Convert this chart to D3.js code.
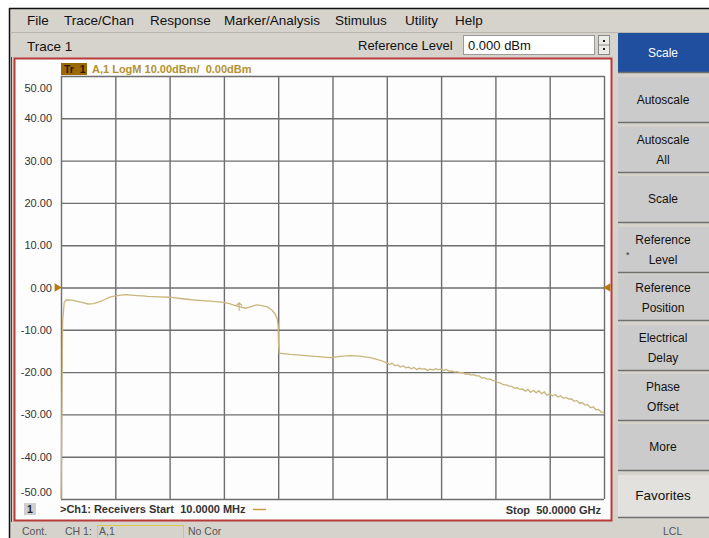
<!doctype html>
<html>
<head>
<meta charset="utf-8">
<title>PNA Trace 1</title>
<script src="https://cdn.jsdelivr.net/npm/d3@7"></script>
<style>
  body { margin: 0; background: #fff; }
  svg { display: block; font-family: "Liberation Sans", Arial, sans-serif; }
  svg text { white-space: pre; }
</style>
</head>
<body>
<svg id="chart" width="709" height="538"></svg>
<script>
var menuItems = ["File", "Trace/Chan", "Response", "Marker/Analysis", "Stimulus", "Utility", "Help"];
var menuX = [27, 64, 150, 224, 335, 405, 455];

var yTicks = [50, 40, 30, 20, 10, 0, -10, -20, -30, -40, -50];
var xTicks = [0, 5, 10, 15, 20, 25, 30, 35, 40, 45, 50]; // GHz, 10 divisions

var softkeys = ["Scale", "Autoscale", "Autoscale|All", "Scale", "Reference|Level",
                "Reference|Position", "Electrical|Delay", "Phase|Offset", "More", "Favorites"];

// trace: frequency (GHz) and magnitude (dBm)
var freqGHz = [0.01, 0.08, 0.15, 0.3, 0.5, 1.0, 1.5, 2.0, 2.5, 3.0, 3.5, 4.0, 4.5, 5.0, 5.5, 6.0, 6.5,
  7.0, 7.5, 8.0, 9.0, 10.0, 11.0, 12.0, 13.0, 14.0, 15.0, 15.5, 16.0, 16.5, 17.0, 17.5, 18.0, 18.5,
  19.0, 19.4, 19.7, 19.9, 20.0, 20.02, 20.1, 21.1, 22.0, 23.4, 24.8, 25.7, 26.6, 27.5, 28.5, 29.4,
  30.0, 30.25, 30.5, 30.75, 31.0, 31.25, 31.5, 31.75, 32.0, 32.25, 32.5, 32.75, 33.0, 33.25, 33.5,
  33.75, 34.0, 34.25, 34.5, 34.75, 35.0, 35.25, 35.5, 35.75, 36.0, 36.25, 36.5, 36.75, 37.0, 37.25,
  37.5, 37.75, 38.0, 38.25, 38.5, 38.75, 39.0, 39.25, 39.5, 39.75, 40.0, 40.25, 40.5, 40.75, 41.0,
  41.25, 41.5, 41.75, 42.0, 42.25, 42.5, 42.75, 43.0, 43.25, 43.5, 43.75, 44.0, 44.25, 44.5, 44.75,
  45.0, 45.25, 45.5, 45.75, 46.0, 46.25, 46.5, 46.75, 47.0, 47.25, 47.5, 47.75, 48.0, 48.25, 48.5,
  48.75, 49.0, 49.25, 49.5, 49.75, 50.0];
var magDb = [-50, -30, -8, -3.5, -2.9, -3.0, -3.3, -3.6, -3.9, -3.8, -3.4, -2.9, -2.3, -2.0, -1.8, -1.7, -1.8,
  -1.9, -2.0, -2.1, -2.2, -2.3, -2.6, -2.9, -3.1, -3.3, -3.5, -3.8, -4.2, -4.6, -4.9, -4.5, -4.1, -4.3,
  -4.6, -5.3, -6.2, -7.3, -9.0, -13.0, -15.5, -15.8, -16.0, -16.3, -16.6, -16.3, -16.1, -16.2, -16.6, -17.2,
  -17.8, -18.2, -17.9, -18.5, -18.3, -18.8, -18.5, -19.0, -18.8, -19.2, -18.9, -19.4, -19.1, -19.3, -19.2,
  -19.6, -19.3, -19.5, -19.2, -19.4, -19.3, -19.6, -19.4, -19.8, -19.7, -20.0, -19.9, -20.2, -20.1, -20.5,
  -20.4, -20.7, -20.6, -20.9, -20.9, -21.4, -21.3, -21.7, -21.6, -22.0, -22.0, -22.5, -22.6, -23.0, -23.0,
  -23.3, -23.4, -23.8, -23.7, -24.1, -24.0, -24.5, -24.1, -24.8, -24.3, -24.9, -24.4, -25.1, -24.7, -25.5,
  -25.1, -25.6, -25.3, -25.9, -25.6, -26.2, -26.0, -26.4, -26.3, -26.9, -26.7, -27.4, -27.2, -27.8, -27.7,
  -28.4, -28.2, -28.9, -28.8, -29.5, -29.4];

var marker = { f: 16.4, db: -3.6 };

var svg = d3.select("#chart");

// window chrome
svg.append("rect").attr("x", 0).attr("y", 0).attr("width", 709).attr("height", 538).attr("fill", "#fff");
svg.append("rect").attr("x", 10).attr("y", 8).attr("width", 699).attr("height", 530).attr("fill", "#d6d3cd");
svg.append("line").attr("x1", 9.5).attr("x2", 9.5).attr("y1", 8).attr("y2", 538).attr("stroke", "#111").attr("stroke-width", 1.5);
svg.append("line").attr("x1", 9).attr("x2", 709).attr("y1", 8.5).attr("y2", 8.5).attr("stroke", "#111").attr("stroke-width", 1.5);
svg.append("line").attr("x1", 10).attr("x2", 709).attr("y1", 32.5).attr("y2", 32.5).attr("stroke", "#b8b5ae");

// menu
svg.selectAll(".menu").data(menuItems).enter().append("text")
  .attr("x", function(d, i) { return menuX[i]; })
  .attr("y", 25)
  .attr("font-size", 13.5)
  .attr("fill", "#111")
  .text(function(d) { return d; });

// toolbar
svg.append("text").attr("x", 27).attr("y", 51).attr("font-size", 13.5).attr("fill", "#111").text("Trace 1");
svg.append("text").attr("x", 358).attr("y", 50).attr("font-size", 13).attr("fill", "#111").text("Reference Level");
svg.append("rect").attr("x", 463.5).attr("y", 35.5).attr("width", 131).attr("height", 19)
  .attr("fill", "#fff").attr("stroke", "#9a9a9a");
svg.append("text").attr("x", 468).attr("y", 50).attr("font-size", 13).attr("fill", "#111").text("0.000 dBm");
svg.append("rect").attr("x", 598.5).attr("y", 35.5).attr("width", 11).attr("height", 19)
  .attr("fill", "#ecebe8").attr("stroke", "#8a8a8a");
svg.append("line").attr("x1", 598).attr("x2", 610).attr("y1", 45).attr("y2", 45).attr("stroke", "#8a8a8a");
svg.append("rect").attr("x", 603).attr("y", 40).attr("width", 2).attr("height", 2).attr("fill", "#222");
svg.append("rect").attr("x", 603).attr("y", 48).attr("width", 2).attr("height", 2).attr("fill", "#222");

// softkey column
var keyTop = [33, 77, 127, 176, 227, 275, 325, 374, 424, 475];
var keyBot = [72, 122, 172, 222, 272, 320, 370, 420, 470, 517];
var keys = svg.selectAll(".key").data(softkeys).enter().append("g").attr("class", "key");
keys.append("rect")
  .attr("x", 618).attr("y", function(d, i) { return keyTop[i]; })
  .attr("width", 91).attr("height", function(d, i) { return keyBot[i] - keyTop[i]; })
  .attr("fill", function(d, i) { return i === 0 ? "#1f4f9e" : (i === 9 ? "#e2e1de" : "#cbcbcb"); });
keys.append("line")
  .attr("x1", 618).attr("x2", 709)
  .attr("y1", function(d, i) { return keyBot[i] + 0.5; }).attr("y2", function(d, i) { return keyBot[i] + 0.5; })
  .attr("stroke", "#6f6f6f").attr("stroke-width", 1.5);
keys.each(function(d, i) {
  var lines = d.split("|");
  var mid = (keyTop[i] + keyBot[i]) / 2;
  var t = d3.select(this);
  lines.forEach(function(s, j) {
    t.append("text")
      .attr("x", 663).attr("y", mid + 4 + (j - (lines.length - 1) / 2) * 20)
      .attr("text-anchor", "middle")
      .attr("font-size", i === 9 ? 13.5 : 12)
      .attr("fill", i === 0 ? "#fff" : "#111")
      .text(s);
  });
});
svg.append("text").attr("x", 626).attr("y", 258).attr("font-size", 9).attr("fill", "#333").text("*");

// chart panel
svg.append("rect").attr("x", 14.5).attr("y", 58.5).attr("width", 597).attr("height", 462)
  .attr("fill", "#fdfdfd").attr("stroke", "#b83a3a").attr("stroke-width", 2);
svg.append("line").attr("x1", 11.5).attr("x2", 11.5).attr("y1", 57).attr("y2", 522).attr("stroke", "#444").attr("stroke-width", 1);

var margin = { left: 61, top: 76, right: 604, bottom: 499 };
var x = d3.scaleLinear().domain([0, 50]).range([margin.left, margin.right]);
var y = d3.scaleLinear().domain([-50, 50]).range([margin.bottom, margin.top]);
var w = margin.right - margin.left, h = margin.bottom - margin.top;

// grid via axes
svg.append("g").attr("transform", "translate(0," + margin.bottom + ")")
  .call(d3.axisBottom(x).tickValues(xTicks).tickSize(-h).tickFormat(""))
  .call(function(g) { g.select(".domain").remove(); g.selectAll("line").attr("stroke", "#6e6e6e").attr("stroke-width", 1.4); });
var yAxis = svg.append("g").attr("transform", "translate(" + margin.left + ",0)")
  .call(d3.axisLeft(y).tickValues(yTicks).tickSize(-w).tickPadding(9)
    .tickFormat(function(d) { return d.toFixed(2); }))
  .call(function(g) {
    g.select(".domain").remove();
    g.selectAll("line").attr("stroke", "#6e6e6e").attr("stroke-width", 1.4);
    g.selectAll("text").attr("font-size", 11).attr("fill", "#333")
      .attr("font-family", "'Liberation Sans', Arial, sans-serif");
  });
yAxis.selectAll(".tick text").attr("dy", function(d) { return d === 50 ? "1.4em" : (d === -50 ? "-0.3em" : "0.32em"); });

// header tag
svg.append("rect").attr("x", 61).attr("y", 63).attr("width", 26).attr("height", 12).attr("fill", "#9c6a00");
svg.append("text").attr("x", 64).attr("y", 73).attr("font-size", 10.5).attr("font-weight", "bold").attr("fill", "#2a1800").text("Tr  1");
svg.append("text").attr("x", 92).attr("y", 73).attr("font-size", 11).attr("font-weight", "bold").attr("fill", "#b4922e")
  .text("A,1 LogM 10.00dBm/  0.00dBm");

// reference position arrows
svg.append("path").attr("d", d3.symbol(d3.symbolTriangle, 30)).attr("fill", "#b7780c")
  .attr("transform", "translate(" + (margin.left - 4) + "," + y(0) + ") rotate(90)");
svg.append("path").attr("d", d3.symbol(d3.symbolTriangle, 30)).attr("fill", "#b7780c")
  .attr("transform", "translate(" + (margin.right + 4) + "," + y(0) + ") rotate(-90)");

// trace
var pts = freqGHz.map(function(f, i) { return [f, magDb[i]]; });
svg.append("path").datum(pts)
  .attr("fill", "none").attr("stroke", "#c9b57d").attr("stroke-width", 1.3)
  .attr("d", d3.line().x(function(d) { return x(d[0]); }).y(function(d) { return y(d[1]); }));

// marker arrow
var mx = x(marker.f), my = y(marker.db);
svg.append("path").attr("d", "M" + (mx - 3) + "," + (my + 3) + "L" + mx + "," + my + "L" + (mx + 3) + "," + (my + 3) + "M" + mx + "," + my + "L" + mx + "," + (my + 8))
  .attr("fill", "none").attr("stroke", "#c9b57d").attr("stroke-width", 1.2);

// bottom annotations
svg.append("rect").attr("x", 24).attr("y", 503).attr("width", 12).attr("height", 12).attr("fill", "#cfcfcf");
svg.append("text").attr("x", 27).attr("y", 513).attr("font-size", 10.5).attr("font-weight", "bold").attr("fill", "#222").text("1");
svg.append("text").attr("x", 60).attr("y", 513).attr("font-size", 11).attr("font-weight", "bold").attr("fill", "#333")
  .text(">Ch1: Receivers Start  10.0000 MHz");
svg.append("line").attr("x1", 253).attr("x2", 266).attr("y1", 509.5).attr("y2", 509.5).attr("stroke", "#c99a3c").attr("stroke-width", 1.5);
svg.append("text").attr("x", 601).attr("y", 514).attr("text-anchor", "end").attr("font-size", 11).attr("font-weight", "bold").attr("fill", "#333")
  .text("Stop  50.0000 GHz");

// status bar
svg.append("text").attr("x", 22).attr("y", 535).attr("font-size", 10.5).attr("fill", "#555").text("Cont.");
svg.append("text").attr("x", 65).attr("y", 535).attr("font-size", 10.5).attr("fill", "#555").text("CH 1:");
svg.append("rect").attr("x", 97.5).attr("y", 525.5).attr("width", 86).attr("height", 14).attr("fill", "none").attr("stroke", "#e0c74a");
svg.append("text").attr("x", 99).attr("y", 535).attr("font-size", 10.5).attr("fill", "#555").text("A,1");
svg.append("text").attr("x", 188).attr("y", 535).attr("font-size", 10.5).attr("fill", "#555").text("No Cor");
svg.append("text").attr("x", 663).attr("y", 535).attr("font-size", 10.5).attr("fill", "#555").text("LCL");
</script>
</body>
</html>
